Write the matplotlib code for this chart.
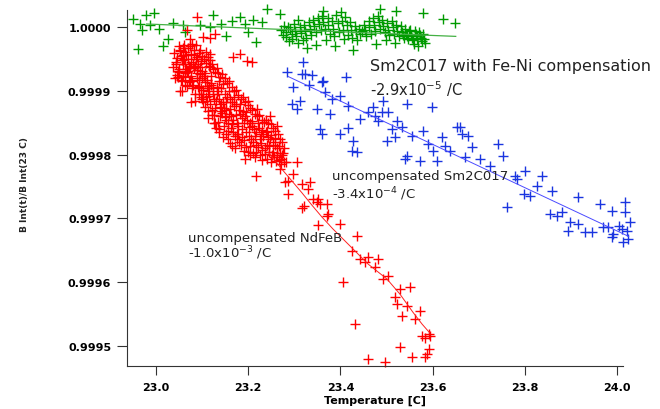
import numpy as np
import matplotlib
matplotlib.use("Agg")
import matplotlib.pyplot as plt

# deviations are given in ppm of B(23 C); converted to ratios below
# --- Sm2Co17 with Fe-Ni compensation (green)
green_t = [22.950, 22.978, 22.996, 22.965, 22.969, 22.962, 22.987, 23.007, 23.015, 23.026,
           23.037, 23.063, 23.059, 23.095, 23.117, 23.124, 23.142, 23.153, 23.164, 23.182,
           23.193, 23.200, 23.211, 23.218, 23.229, 23.240, 23.269,
           23.272, 23.275, 23.278, 23.281, 23.283, 23.286, 23.288, 23.291, 23.294, 23.296,
           23.299, 23.302, 23.304, 23.307, 23.309, 23.312, 23.315, 23.318, 23.321, 23.323,
           23.326, 23.328, 23.331, 23.334, 23.337, 23.341, 23.343, 23.346, 23.348, 23.352,
           23.354, 23.357, 23.361, 23.363, 23.366, 23.368, 23.372, 23.374, 23.377, 23.381,
           23.383, 23.386, 23.388, 23.391, 23.394, 23.396, 23.401, 23.403, 23.405, 23.408,
           23.411, 23.414, 23.416, 23.421, 23.423, 23.426, 23.428, 23.432, 23.434, 23.437,
           23.441, 23.443, 23.446, 23.451, 23.453, 23.456, 23.461, 23.463, 23.466, 23.471,
           23.473, 23.476, 23.478, 23.481, 23.483, 23.486, 23.491, 23.493, 23.496, 23.498,
           23.501, 23.503, 23.506, 23.511, 23.513, 23.516, 23.518, 23.521, 23.523, 23.526,
           23.531, 23.533, 23.535, 23.538, 23.541, 23.543, 23.545, 23.547, 23.549, 23.551,
           23.553, 23.555, 23.557, 23.559, 23.561, 23.563, 23.565, 23.567, 23.569, 23.571,
           23.573, 23.575, 23.577, 23.580, 23.582, 23.584,
           23.362, 23.485, 23.520, 23.580, 23.622, 23.649]
green_ppm = [13, 19, 23, 5, -5, -34, 4, -3, -29, -18,
             6, -8, 3, 3, 0, 19, 5, -13, 10, 16,
             5, -8, 12, -23, 8, 29, 21,
             -5, -12, 2, -8, -15, 0, -22, -3, -10, -18,
             5, -6, -14, 12, -25, 0, -9, -20, 3, -6,
             -16, -32, 8, -2, -12, 12, 2, -8, -28, 15,
             5, -5, 18, 8, -3, -20, 14, 4, -10, 10,
             -2, -14, -30, 20, 6, -8, 24, 10, -4, -18,
             16, 4, -12, 8, -4, -16, -35, 2, -8, -20,
             -2, -10, -6, 4, -4, -14, 10, 0, -10, 14,
             4, -6, -26, 18, 8, -2, 12, 2, -8, -20,
             6, -4, -12, 10, 0, -10, -24, 4, -6, -14,
             2, -8, -12, -16, -2, -10, -14, -18, -6, -4,
             -12, -16, -20, -26, -6, -10, -14, -18, -30, -8,
             -12, -16, -22, -10, -18, -24,
             25, 28, 26, 22, 13, 7]

# --- uncompensated Sm2Co17 (blue)
blue_t = [23.2835, 23.3195, 23.316, 23.323, 23.338, 23.3325, 23.298, 23.294, 23.305, 23.312,
          23.359, 23.367, 23.381, 23.412, 23.399, 23.417, 23.3486, 23.377, 23.356, 23.359,
          23.399, 23.417, 23.428, 23.4245, 23.435, 23.4425, 23.4605, 23.471, 23.475, 23.482,
          23.493, 23.4895, 23.504, 23.511, 23.5005, 23.522, 23.533, 23.518, 23.544, 23.5545,
          23.580, 23.598, 23.544, 23.540, 23.5725, 23.5905, 23.6015, 23.609, 23.620, 23.627,
          23.638, 23.652, 23.659, 23.663, 23.677, 23.685, 23.670, 23.703, 23.7245, 23.7425,
          23.753, 23.779, 23.782, 23.8005, 23.8365, 23.8255, 23.797, 23.811, 23.858, 23.761,
          23.916, 23.963, 23.988, 24.017, 24.017, 24.028, 23.8545, 23.869, 23.880, 23.898,
          23.894, 23.9155, 23.930, 23.945, 23.970, 23.981, 23.992, 24.003, 24.010, 24.021,
          23.988, 24.0135, 24.0245, 23.363]
blue_ppm = [-70.7, -55, -73.3, -73, -74.9, -90.6, -94.2, -120.4, -128.3, -115.2,
            -86.4, -102, -112.6, -78.5, -107.4, -123.1, -128.3, -136.1, -159.7, -167.5,
            -167.5, -158.6, -178, -193.7, -196.3, -144, -133.5, -125.6, -138.8, -146.6,
            -115.2, -133.5, -133.5, -159.7, -178, -146.6, -157, -172.7, -120.4, -170.2,
            -162.3, -125.6, -201.6, -206.8, -209.4, -183.2, -193.7, -209.4, -172.7, -185.9,
            -193.7, -157, -157, -167.5, -170.2, -188.4, -204.1, -206.8, -217.3, -183.2,
            -201.6, -233, -238.2, -225.1, -233, -248.7, -261.7, -264.4, -256.5, -282.6,
            -266.9, -277.4, -288, -274.8, -290.5, -306.2, -293.1, -295.8, -290.5, -306.2,
            -319.3, -308.8, -321.9, -321.9, -314, -314, -324.5, -311.5, -316.7, -319.3,
            -329.7, -337.6, -332.4, -83.8]

# --- uncompensated NdFeB (red): dense block of early readings
red_t = [23.040, 23.044, 23.038, 23.046, 23.041, 23.049, 23.045, 23.051, 23.047, 23.043,
         23.053, 23.056, 23.050, 23.054, 23.058, 23.060, 23.055, 23.059, 23.062, 23.057,
         23.064, 23.061, 23.066, 23.063, 23.068, 23.069, 23.065, 23.071, 23.067, 23.072,
         23.073, 23.076, 23.070, 23.074, 23.078, 23.079, 23.077, 23.081, 23.075, 23.080,
         23.083, 23.086, 23.082, 23.088, 23.084, 23.087, 23.090, 23.085, 23.089, 23.092,
         23.094, 23.091, 23.096, 23.093, 23.097, 23.099, 23.095, 23.101, 23.098, 23.102,
         23.104, 23.100, 23.106, 23.103, 23.107, 23.109, 23.105, 23.111, 23.108, 23.112,
         23.113, 23.116, 23.110, 23.114, 23.118, 23.112, 23.117, 23.117, 23.117, 23.120,
         23.116, 23.121, 23.123, 23.119, 23.125, 23.122, 23.126, 23.128, 23.124, 23.130,
         23.127, 23.131, 23.133, 23.136, 23.132, 23.138, 23.134, 23.137, 23.139, 23.135,
         23.141, 23.140, 23.136, 23.144, 23.142, 23.146, 23.143, 23.147, 23.145, 23.149,
         23.150, 23.148, 23.152, 23.151, 23.154, 23.155, 23.153, 23.157, 23.156, 23.159,
         23.160, 23.158, 23.162, 23.161, 23.164, 23.165, 23.163, 23.167, 23.166, 23.169,
         23.170, 23.168, 23.171, 23.174, 23.173, 23.176, 23.175, 23.172, 23.178, 23.180,
         23.179, 23.181, 23.184, 23.183, 23.186, 23.185, 23.189, 23.188, 23.190, 23.187,
         23.191, 23.194, 23.193, 23.196, 23.195, 23.199, 23.198, 23.201, 23.200, 23.204,
         23.203, 23.206, 23.205, 23.209, 23.208, 23.211, 23.210, 23.214, 23.213, 23.216,
         23.215, 23.219, 23.218, 23.221, 23.224, 23.223, 23.226, 23.225, 23.229, 23.228,
         23.231, 23.230, 23.234, 23.233, 23.236, 23.239, 23.238, 23.241, 23.240, 23.244,
         23.243, 23.246, 23.249, 23.248, 23.251, 23.250, 23.254, 23.253, 23.256, 23.259,
         23.258, 23.261, 23.264, 23.263, 23.266, 23.269, 23.268, 23.271, 23.274, 23.273,
         23.278, 23.277,
         23.047, 23.052, 23.058, 23.063, 23.069, 23.074, 23.079, 23.083, 23.088, 23.093,
         23.097, 23.102, 23.106, 23.111, 23.115, 23.119, 23.124, 23.128, 23.132, 23.137,
         23.141, 23.145, 23.149, 23.153, 23.157, 23.161, 23.166, 23.170, 23.174, 23.179,
         23.183, 23.187, 23.192, 23.196, 23.201, 23.205, 23.209, 23.214, 23.218, 23.222,
         23.227, 23.231, 23.236, 23.240, 23.245, 23.249, 23.254, 23.258, 23.263, 23.267,
         23.272, 23.276, 23.058, 23.064, 23.085, 23.095, 23.121, 23.134, 23.109, 23.100,
         23.128, 23.158, 23.175, 23.199, 23.220, 23.248, 23.262]
red_ppm = [-40, -55, -62, -75, -80, -30, -48, -66, -78, -58,
           -35, -52, -70, -82, -44, -28, -45, -58, -72, -84,
           -38, -50, -65, -78, -92, -32, -44, -60, -70, -86,
           -30, -55, -68, -82, -96, -26, -42, -58, -76, -90,
           -36, -50, -64, -80, -104, -28, -46, -60, -72, -94,
           -40, -58, -74, -92, -110, -45, -62, -80, -96, -118,
           -50, -68, -86, -104, -125, -56, -76, -92, -110, -132,
           -46, -60, -82, -100, -120, -142, -42, -52, -62, -88,
           -108, -138, -66, -90, -112, -130, -150, -70, -95, -116,
           -138, -158, -64, -85, -104, -125, -148, -165, -78, -100,
           -120, -140, -160, -74, -96, -118, -134, -155, -172, -80,
           -105, -126, -146, -168, -88, -110, -130, -150, -176, -84,
           -112, -136, -158, -182, -94, -118, -140, -164, -186, -100,
           -124, -146, -170, -98, -120, -150, -176, -190, -106, -130,
           -155, -180, -112, -136, -160, -185, -110, -132, -150, -172,
           -194, -118, -140, -165, -188, -122, -146, -170, -196, -126,
           -150, -175, -200, -130, -155, -180, -198, -136, -160, -184,
           -204, -140, -164, -188, -138, -158, -176, -200, -145, -168,
           -192, -208, -148, -170, -190, -146, -165, -185, -206, -150,
           -172, -196, -152, -175, -200, -212, -158, -180, -204, -162,
           -185, -210, -168, -190, -208, -175, -198, -214, -180, -200,
           -190, -212,
           -68, -37, -77, -57, -49, -63, -85, -43, -67, -83,
           -53, -99, -71, -115, -95, -77, -104, -127, -93, -112,
           -131, -89, -141, -118, -163, -129, -152, -109, -137, -167,
           -121, -143, -177, -133, -157, -187, -147, -171, -195, -151,
           -181, -161, -199, -163, -187, -169, -195, -173, -201, -187,
           -207, -197, -33, -90, -115, -35, -57, -71, -39, -112,
           -150, -100, -168, -115, -128, -140, -155]

# stragglers above the block and the lower tail
red_extra_t = [23.088, 23.067, 23.077, 23.052, 23.094, 23.117, 23.074, 23.102, 23.128, 23.182,
               23.197, 23.168, 23.208, 23.056,
               23.283, 23.305, 23.298, 23.269, 23.193, 23.218, 23.287, 23.280, 23.316, 23.334,
               23.330, 23.287, 23.352, 23.349, 23.370, 23.320, 23.370, 23.352, 23.316, 23.341,
               23.356, 23.374, 23.399, 23.435, 23.4245, 23.4425, 23.4605, 23.482, 23.475, 23.453,
               23.493, 23.504, 23.406, 23.529, 23.551, 23.518, 23.522, 23.544, 23.573, 23.533,
               23.562, 23.432, 23.591, 23.584, 23.5765, 23.594, 23.529, 23.591, 23.587, 23.555,
               23.4605, 23.497, 23.584]
red_extra_ppm = [16, -5, -118, -100, -105, -16, -18, -15, -10, -42,
                 -53, -47, -54, -100,
                 -212, -212, -230, -222, -207, -233, -241, -243, -246, -243,
                 -254, -262, -270, -275, -277, -280, -296, -311, -283, -270,
                 -277, -293, -309, -327, -351, -364, -361, -364, -377, -369,
                 -395, -390, -400, -411, -408, -424, -434, -437, -445, -453,
                 -458, -466, -481, -487, -484, -484, -502, -505, -513, -518,
                 -521, -525, -518]
# thin trace through the lower NdFeB readings
red_trace_t = [23.243, 23.269, 23.295, 23.317, 23.338, 23.360, 23.384, 23.421, 23.460, 23.501,
               23.529, 23.557, 23.577, 23.594]
red_trace_ppm = [-195.8, -219.3, -241.3, -260.2, -279.0, -297.9, -316.7, -343.4, -371.7, -395.2,
                 -418.8, -447.1, -465.9, -480.0]

# linear fits, slopes per degree C
green_slope, green_t0, green_b0, green_span = -2.9e-5, 22.98, 1.0000052, (22.98, 23.65)
blue_slope, blue_t0, blue_b0, blue_span = -3.4e-4, 23.656, 0.9997972, (23.287, 24.025)

ticks_t = [23.0, 23.2, 23.4, 23.6, 23.8, 24.0]
ticks_b = [0.9995, 0.9996, 0.9997, 0.9998, 0.9999, 1.0000]


def ratio(ppm):
    return 1 + np.asarray(ppm, dtype=float) * 1e-6


fig = plt.figure(figsize=(6.6, 4.1), dpi=100)
ax = fig.add_axes([0.1929, 0.1041, 0.7506, 0.8691])

mk = dict(linestyle='none', marker='+', ms=6.5, mew=1.0, clip_on=False)
ax.plot(green_t, ratio(green_ppm), color='#009a00', **mk)
ax.plot(red_t + red_extra_t, ratio(red_ppm + red_extra_ppm), color='#ff0000', **mk)
ax.plot(blue_t, ratio(blue_ppm), color='#1a35e0', **mk)

gt = np.array(green_span)
ax.plot(gt, green_b0 + green_slope * (gt - green_t0), color='#44b044', lw=0.9)
bt = np.array(blue_span)
ax.plot(bt, blue_b0 + blue_slope * (bt - blue_t0), color='#4a4aff', lw=0.7, clip_on=False)
ax.plot(red_trace_t, ratio(red_trace_ppm), color='#ff2020', lw=0.7)

txt = dict(color='#222222', va='center', ha='left')
ax.text(23.464, ratio(-60.3), 'Sm2C017 with Fe-Ni compensation', fontsize=11.5, **txt)
ax.text(23.464, ratio(-95.8), r'-2.9x10$^{-5}$ /C', fontsize=10.5, **txt)
ax.text(23.381, ratio(-231.9), 'uncompensated Sm2C017', fontsize=9.5, **txt)
ax.text(23.381, ratio(-260.0), r'-3.4x10$^{-4}$ /C', fontsize=9.5, **txt)
ax.text(23.070, ratio(-329.7), 'uncompensated NdFeB', fontsize=9.5, **txt)
ax.text(23.070, ratio(-353.3), r'-1.0x10$^{-3}$ /C', fontsize=9.5, **txt)

ax.set_xlim(22.938, 24.012)
ax.set_ylim(0.9994678, 1.0000272)
ax.set_xticks(ticks_t)
ax.set_xticklabels(['%.1f' % t for t in ticks_t])
ax.set_yticks(ticks_b)
ax.set_yticklabels(['%.4f' % b for b in ticks_b])
for s in ('top', 'right'):
    ax.spines[s].set_visible(False)
for s in ('left', 'bottom'):
    ax.spines[s].set_color('#333333')
    ax.spines[s].set_linewidth(0.8)
ax.tick_params(axis='x', length=6.5, width=0.8, pad=5, color='#333333')
ax.tick_params(axis='y', length=7.5, width=0.8, pad=4, color='#333333')
for lab in ax.get_xticklabels() + ax.get_yticklabels():
    lab.set_fontsize(8)
    lab.set_fontweight('bold')

ax.set_xlabel('Temperature [C]', fontsize=8, fontweight='bold', labelpad=2)
fig.text(25 / 660, 1 - 185 / 410, 'B Int(t)/B Int(23 C)', rotation=90, fontsize=6.5,
         fontweight='bold', ha='center', va='center', color='#222222')

fig.savefig('out.png', dpi=100)
